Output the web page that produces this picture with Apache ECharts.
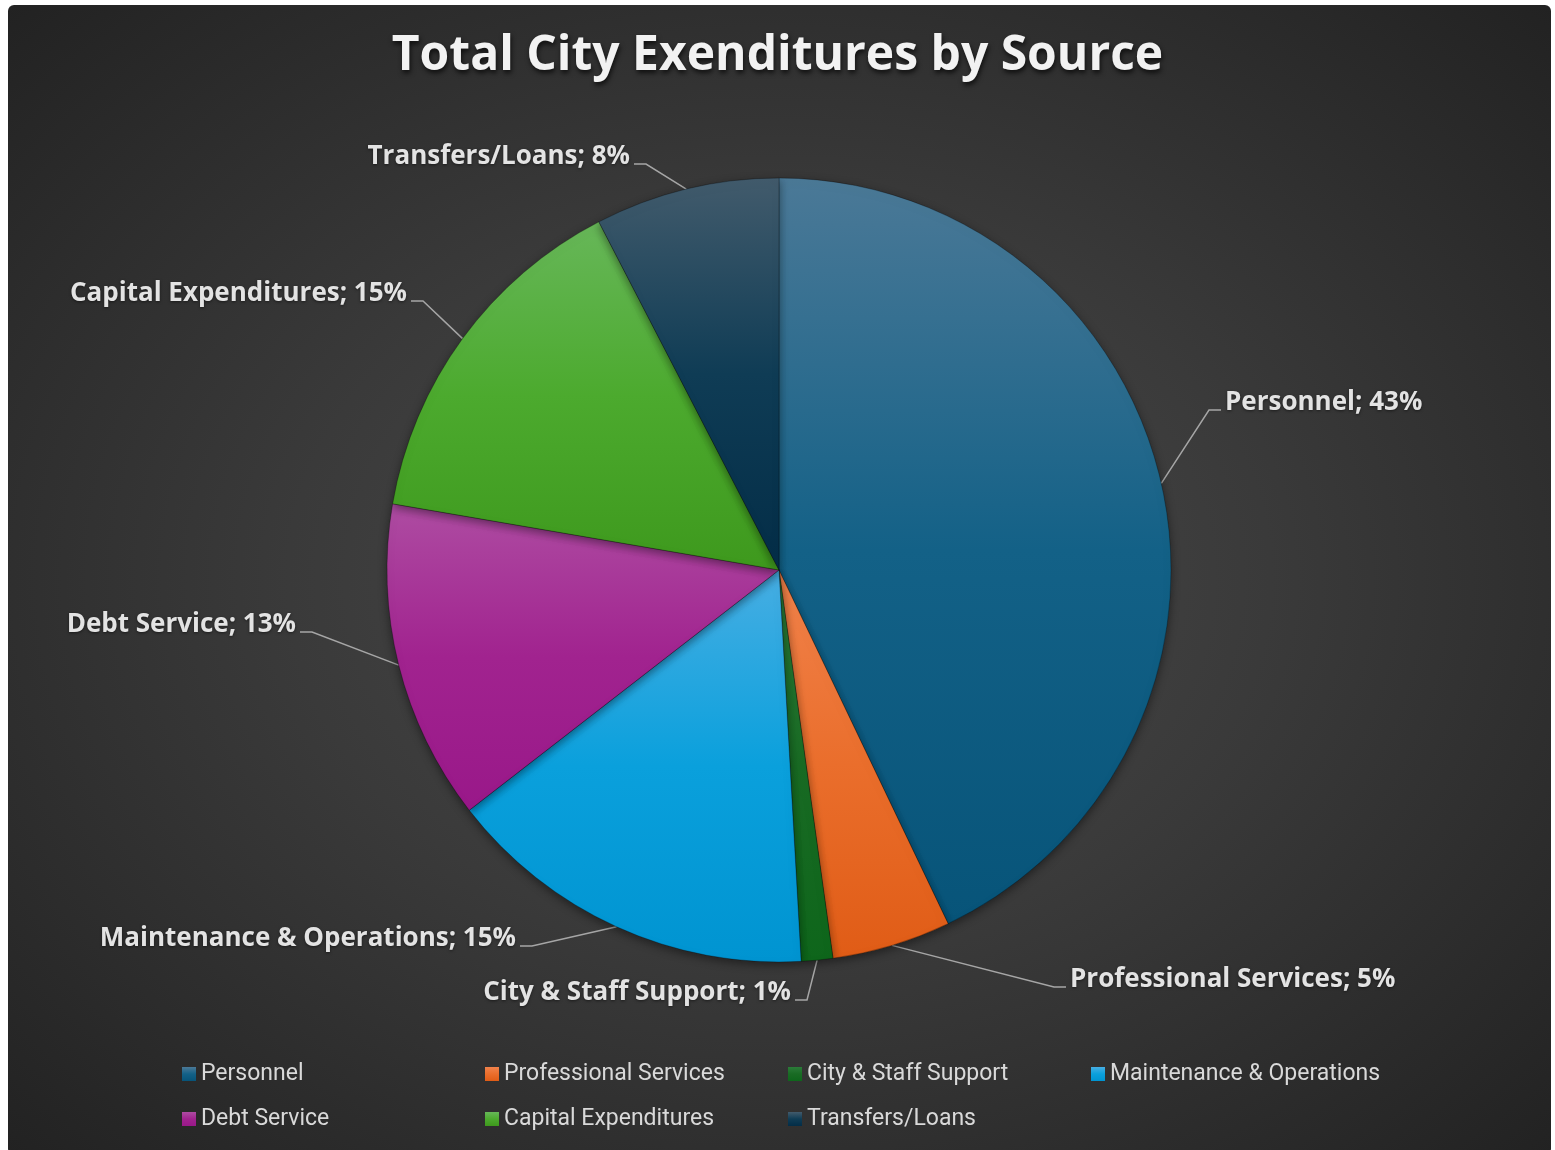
<!DOCTYPE html>
<html>
<head>
<meta charset="utf-8">
<script src="https://cdn.jsdelivr.net/npm/echarts@6/dist/echarts.min.js"></script>
<style>
  html, body { margin: 0; padding: 0; background: #ffffff; width: 1555px; height: 1150px; overflow: hidden; }
  #bg { position: absolute; left: 8px; top: 5px; width: 1543px; height: 1150px; border-radius: 6px;
        background: radial-gradient(ellipse farthest-corner at 50% 50%, #4b4b4b 0%, #3a3a3a 45%, #222222 100%); }
  #chart { position: absolute; left: 0; top: 0; width: 1555px; height: 1150px; }
</style>
</head>
<body>
<div id="bg"></div>
<div id="chart"></div>
<script>
// ---- data ----
const categories = ['Personnel', 'Professional Services', 'City & Staff Support', 'Maintenance & Operations', 'Debt Service', 'Capital Expenditures', 'Transfers/Loans'];
const shares = [42.9, 4.9, 1.3, 15.4, 13.2, 14.7, 7.6];
const legendRow1 = ['Personnel', 'Professional Services', 'City & Staff Support', 'Maintenance & Operations'];
const legendRow2 = ['Debt Service', 'Capital Expenditures', 'Transfers/Loans'];
const titleText = 'Total City Exenditures by Source';

// ---- style / layout ----
const gradStops = [
  ['#4b7997', '#136187', '#075479'],
  ['#f1824b', '#ea6e2c', '#e05c16'],
  ['#2b7b39', '#196b24', '#0e661b'],
  ['#47aee3', '#0aa0dc', '#0094d1'],
  ['#ae4ca2', '#a1238f', '#991889'],
  ['#67b759', '#4caa2e', '#3e991d'],
  ['#425b6c', '#0f3c55', '#032d47']
];
// label anchor: [x, y(center), align]
const labelAnchors = [
  [1225, 403, 'left'],
  [1070, 980, 'left'],
  [791, 993, 'right'],
  [516, 939, 'right'],
  [296, 625, 'right'],
  [407, 294, 'right'],
  [630, 157, 'right']
];
const CX = 779, CY = 570, R = 392;

const chart = echarts.init(document.getElementById('chart'));

const total = shares.reduce((a, b) => a + b, 0);
const midAngles = [];
let acc = 0;
shares.forEach(v => { const a0 = acc; acc += v; midAngles.push(((a0 + acc) / 2) / total * Math.PI * 2); });

const seriesData = categories.map((name, i) => ({
  name: name,
  value: shares[i],
  itemStyle: {
    color: new echarts.graphic.LinearGradient(0, 0, 0, 1, [
      { offset: 0, color: gradStops[i][0] },
      { offset: 0.5, color: gradStops[i][1] },
      { offset: 1, color: gradStops[i][2] }
    ])
  }
}));

const legendBase = {
  orient: 'horizontal',
  itemWidth: 14,
  itemHeight: 14,
  itemGap: 10,
  icon: 'rect',
  padding: 0,
  selectedMode: false,
  itemStyle: { borderWidth: 0, shadowBlur: 0 },
  textStyle: { color: '#d9d9d9', fontSize: 23, fontFamily: 'Roboto', width: 274, lineHeight: 26, padding: [0, 0, 0, 0] }
};

chart.setOption({
  backgroundColor: 'transparent',
  animation: false,
  title: {
    text: titleText,
    left: 'center',
    top: 27,
    textStyle: {
      color: '#f2f2f2', fontSize: 48, fontWeight: 'bold', fontFamily: 'Open Sans',
      textShadowColor: 'rgba(0,0,0,0.7)', textShadowBlur: 5, textShadowOffsetX: 1, textShadowOffsetY: 3
    }
  },
  legend: [
    Object.assign({}, legendBase, { data: legendRow1, left: 182, top: 1061 }),
    Object.assign({}, legendBase, { data: legendRow2, left: 182, top: 1106 })
  ],
  series: [{
    type: 'pie',
    center: [CX, CY],
    radius: R,
    startAngle: 90,
    clockwise: true,
    percentPrecision: 0,
    avoidLabelOverlap: false,
    data: seriesData,
    itemStyle: {
      borderColor: 'rgba(0,0,0,0.35)',
      borderWidth: 0.8,
      shadowColor: 'rgba(0,0,0,0.45)',
      shadowBlur: 10,
      shadowOffsetY: 3
    },
    label: {
      show: true,
      position: 'outside',
      formatter: '{b}; {d}%',
      color: '#e3e3e3',
      fontSize: 26,
      fontWeight: 'bold',
      fontFamily: 'Open Sans',
      textShadowColor: 'rgba(0,0,0,0.5)',
      textShadowBlur: 3,
      textShadowOffsetY: 1
    },
    labelLine: {
      show: true,
      length: 10,
      length2: 10,
      lineStyle: { color: '#a6a6a6', width: 1.5 }
    },
    labelLayout: function (params) {
      const i = params.dataIndex;
      const a = labelAnchors[i];
      const m = midAngles[i];
      let p0 = [CX + R * Math.sin(m), CY - R * Math.cos(m)];
      if (params.labelLinePoints && params.labelLinePoints[0]) p0 = params.labelLinePoints[0];
      const ly = a[1] + 7;
      let p2, p1;
      if (a[2] === 'left') { p2 = [a[0] - 4, ly]; p1 = [a[0] - 16, ly]; }
      else { p2 = [a[0] + 4, ly]; p1 = [a[0] + 16, ly]; }
      return {
        x: a[0], y: a[1], align: a[2], verticalAlign: 'middle',
        labelLinePoints: [p0, p1, p2]
      };
    },
    emphasis: { disabled: true }
  }]
});
</script>
</body>
</html>
